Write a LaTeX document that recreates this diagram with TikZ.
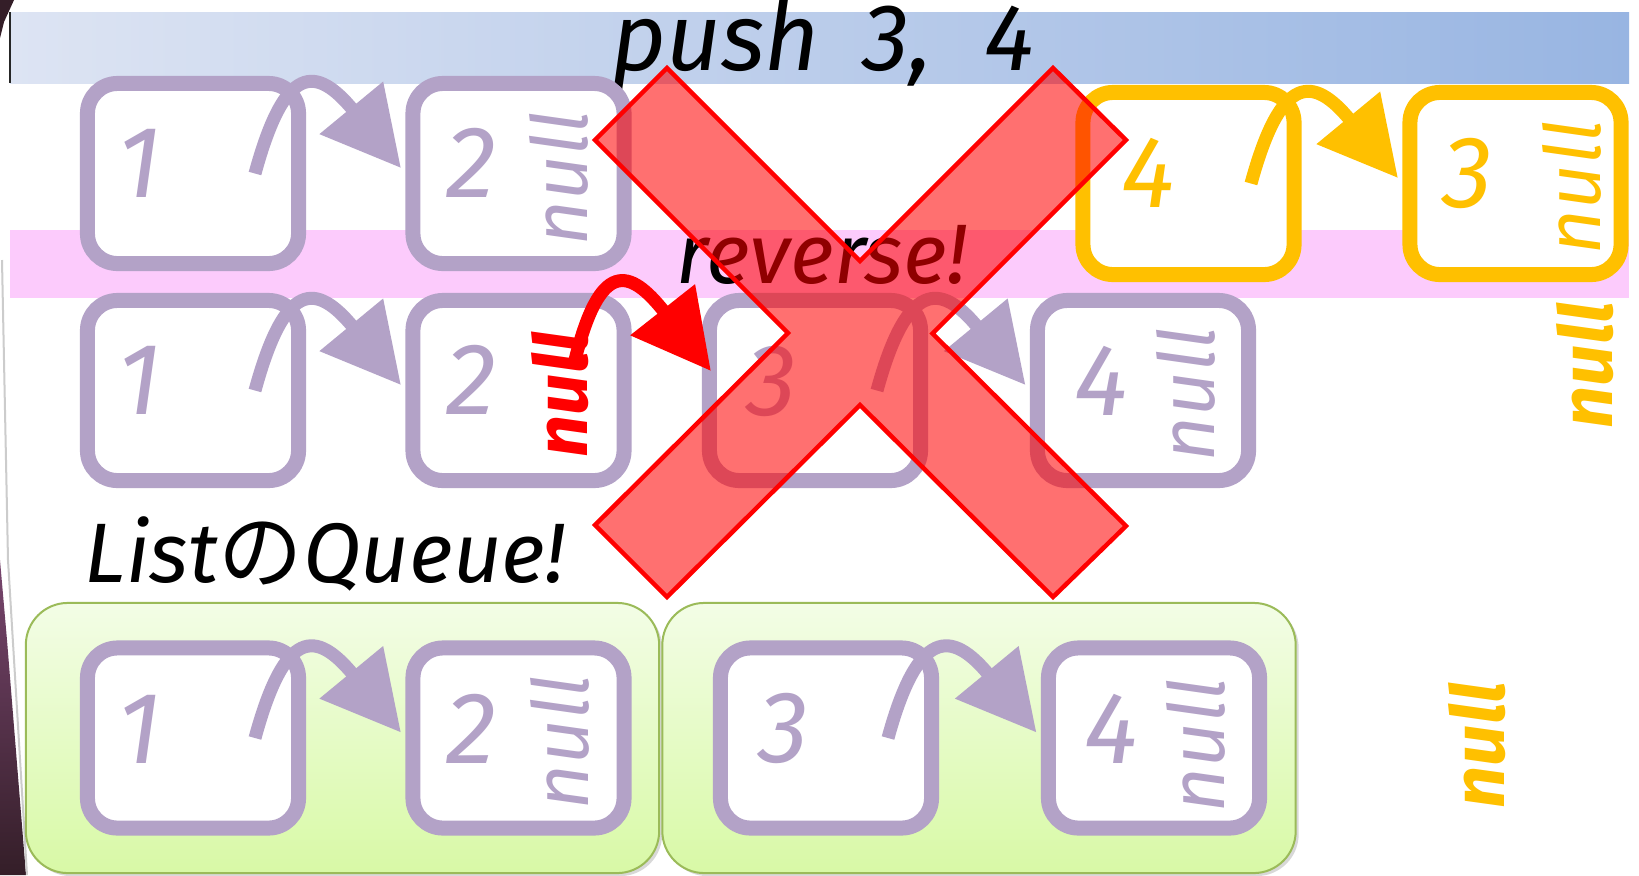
\documentclass[tikz,border=0pt]{standalone}
\usepackage{fontspec}
\setmainfont{Fira Sans}
\newfontfamily\jpfont{Noto Sans CJK JP}
\usetikzlibrary{arrows.meta,positioning,calc,shadows}
\definecolor{cellpurple}{RGB}{179,162,199}
\definecolor{pushyellow}{RGB}{255,192,0}
\definecolor{bannerleft}{RGB}{221,228,243}
\definecolor{bannerright}{RGB}{152,181,226}
\definecolor{pinkband}{RGB}{252,203,252}
\definecolor{greentop}{RGB}{243,253,230}
\definecolor{greenbottom}{RGB}{216,249,166}
\definecolor{greenedge}{RGB}{155,187,89}
\definecolor{edgedark}{RGB}{52,30,40}
\definecolor{edgepurple}{RGB}{120,70,110}
\tikzset{
  cell/.style={draw=cellpurple, line width=0.15cm, fill=white, rounded corners=0.3cm,
               minimum width=2.11cm, minimum height=1.8cm, inner sep=0pt},
  ycell/.style={cell, draw=pushyellow, minimum height=1.82cm},
  digit/.style={font=\fontsize{29}{31}\selectfont\itshape, text=cellpurple, inner sep=0pt},
  nulltag/.style={font=\fontsize{22}{24}\selectfont\itshape, text=cellpurple, rotate=90, inner sep=0pt},
  boldnull/.style={nulltag, font=\fontsize{21}{23}\selectfont\bfseries\itshape},
  link/.style={draw=cellpurple, line width=0.13cm, -{Triangle[length=0.78cm,width=0.79cm]}},
  queuebox/.style={draw=greenedge, line width=0.02cm, rounded corners=0.42cm,
                   top color=greentop, bottom color=greenbottom,
                   minimum width=6.33cm, minimum height=2.70cm,
                   drop shadow={shadow xshift=0.03cm, shadow yshift=-0.03cm, opacity=0.3}},
  headline/.style={font=\fontsize{24}{26}\selectfont\itshape, inner sep=0pt, anchor=base}
}
\begin{document}
\begin{tikzpicture}[x=0.01cm,y=-0.01cm]
  \useasboundingbox (0,0) rectangle (1639,875);
  \fill[white] (0,0) rectangle (1639,875);
  \fill[edgedark] (0,0) -- (14,0) -- (4,22) -- (0,38) -- cycle;
  \shade[top color=edgepurple, bottom color=edgedark] (0,560) -- (7,640) -- (26,875) -- (0,875) -- cycle;
  \draw[black!20, line width=0.02cm] (2,260) -- (8,560) -- (27,875);

  \fill[left color=bannerleft, right color=bannerright] (10,12) rectangle (1629,83);
  \draw[black!85, line width=0.02cm] (10,12) -- (10,83);
  \fill[pinkband] (10,230) rectangle (1629,298);
  \node[headline, font=\fontsize{27}{29}\selectfont\itshape] (push) at (823,70)
    {push\hspace{0.45em}3,\hspace{0.55em}4};
  \node[headline] (rev) at (822,283) {reverse!};
  \node[headline] (listq) at (325,582) {List{\jpfont の}Queue!};

  \node[queuebox] (qa) at (342.5,738) {};
  \node[queuebox] (qb) at (979,738) {};

  \node[cell] (b11) at (193,173.5) {};
  \node[cell] (b12) at (518.5,173.5) {};
  \node[ycell] (y4) at (1188.5,183.5) {};
  \node[ycell] (y3) at (1515.5,183.5) {};
  \node[cell] (b21) at (193,390.5) {};
  \node[cell] (b22) at (518.5,390.5) {};
  \node[cell] (b23) at (815,390.5) {};
  \node[cell] (b24) at (1143,390.5) {};
  \node[cell] (b31) at (193,738) {};
  \node[cell] (b32) at (518.5,738) {};
  \node[cell] (b33) at (826,738) {};
  \node[cell] (b34) at (1154,738) {};

  \node[digit] (d11) at (139,163) {1};
  \node[digit] (d12) at (471,163) {2};
  \node[digit, text=pushyellow] (dy4) at (1148,172.5) {4};
  \node[digit, text=pushyellow] (dy3) at (1468,173) {3};
  \node[digit] (d21) at (139,380) {1};
  \node[digit] (d22) at (471,380) {2};
  \node[digit] (d23) at (772,381) {3};
  \node[digit] (d24) at (1101,381) {4};
  \node[digit] (d31) at (139,729) {1};
  \node[digit] (d32) at (471,729) {2};
  \node[digit] (d33) at (784,728) {3};
  \node[digit] (d34) at (1111,729) {4};

  \node[nulltag] (n12) at (559,178) {null};
  \node[nulltag, text=pushyellow] (ny3) at (1572,187) {null};
  \node[boldnull, text=red] (n22) at (560,394) {null};
  \node[nulltag] (n24) at (1186,394) {null};
  \node[boldnull, text=pushyellow] (nfree2) at (1585,365) {null};
  \node[nulltag] (n32) at (560,742) {null};
  \node[nulltag] (n34) at (1196,745) {null};
  \node[boldnull, text=pushyellow] (nfree3) at (1477,745) {null};

  \foreach \a/\b in {b11/b12,b21/b22,b23/b24,b31/b32,b33/b34}
    \draw[link] ($(\a.center)+(62,0)$) .. controls +(30,-110) and +(-85,-103) .. ($(\b.west)+(-4.5,-5.5)$);
  \draw[link, draw=pushyellow] ($(y4.center)+(62.5,0)$) .. controls +(30,-110) and +(-85,-103) .. ($(y3.west)+(-4.5,-5.5)$);
  \draw[link, draw=red] ($(b22.center)+(56.5,-30.5)$) .. controls +(25,-100) and +(-82,-104) .. ($(b23.west)+(9,-19.5)$);

  \filldraw[draw=red, fill=red, fill opacity=0.56, line width=0.045cm, line join=miter]
    (667,68) -- (860,261) -- (1053,68) -- (1126,140) -- (932.5,333.5) -- (1126,526)
    -- (1053,597) -- (860,405) -- (667,597) -- (595,525) -- (788,333) -- (595,140) -- cycle;
\end{tikzpicture}
\end{document}
